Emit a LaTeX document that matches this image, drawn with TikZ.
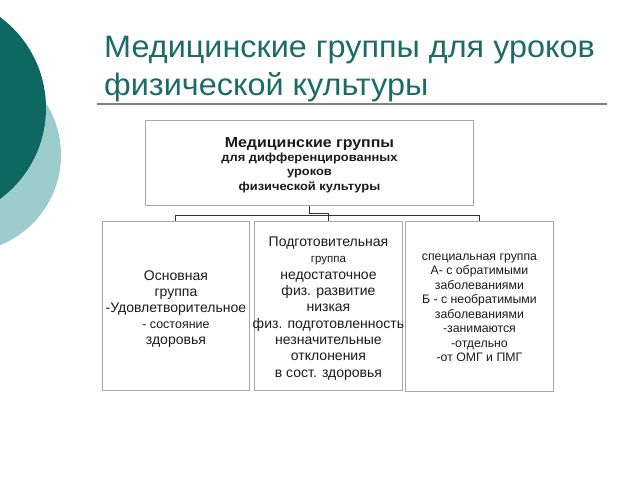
\documentclass[tikz,border=0pt]{standalone}
\usepackage{fontspec}
\setmainfont{Liberation Sans}
\newfontfamily\titlefont[FakeStretch=1.045]{Liberation Sans}
\newfontfamily\topfont[FakeStretch=1.1]{Liberation Sans}
\definecolor{tealdark}{HTML}{0E6862}
\definecolor{teallight}{HTML}{9DCCCC}
\definecolor{titlecol}{HTML}{1D6B66}
\definecolor{boxline}{HTML}{A8A8A8}
\definecolor{conncol}{HTML}{333333}
\definecolor{txtcol}{HTML}{1A1A1A}
\begin{document}
\begin{tikzpicture}[x=1pt,y=-1pt,
  box/.style={draw=boxline, line width=0.9pt, anchor=north west, inner sep=0pt},
  conn/.style={draw=conncol, line width=1pt},
  boxtext/.style={align=center, text=txtcol, inner sep=0pt},
  titletext/.style={anchor=base west, text=titlecol, inner sep=0pt, font=\titlefont\fontsize{31}{37}\selectfont}]
\useasboundingbox (0,0) rectangle (640,480);
\begin{scope}
  \clip (0,0) rectangle (640,480);
  \fill[teallight] (-36,155) circle[radius=97];
  \fill[tealdark] (-67,108) circle[radius=113];
\end{scope}
\node[titletext] (title1) at (104,57) {Медицинские группы для уроков};
\node[titletext] (title2) at (104,95) {физической культуры};
\draw[gray, line width=1.5pt] (97,104) -- (607,104);

\node[box, minimum width=328, minimum height=85] (top) at (145,120) {};
\node[box, minimum width=147, minimum height=169] (b1) at (102,221) {};
\node[box, minimum width=148, minimum height=169] (b2) at (254,221) {};
\node[box, minimum width=148, minimum height=170] (b3) at (405,221) {};

\node[boxtext, font=\topfont\bfseries\fontsize{11.7}{14.3}\selectfont, yshift=-2pt] (t0) at (top.center)
  {{\fontsize{14.5}{14.3}\selectfont Медицинские группы}\\
   для дифференцированных\\
   уроков\\
   физической культуры};

\node[boxtext, font=\fontsize{14}{16}\selectfont, yshift=-3.5pt] (t1) at (b1.center)
  {Основная\\ группа\\ -Удовлетворительное\\
   {\fontsize{12.5}{16}\selectfont - состояние}\\ здоровья};

\node[boxtext, font=\fontsize{14}{16.3}\selectfont, yshift=-2.5pt] (t2) at (b2.center)
  {Подготовительная\\ {\fontsize{11.5}{16.3}\selectfont группа}\\ недостаточное\\
   физ. развитие\\ низкая\\ физ. подготовленность\\ незначительные\\
   отклонения\\ в сост. здоровья};

\node[boxtext, font=\fontsize{12.3}{14.5}\selectfont, yshift=-1.5pt] (t3) at (b3.center)
  {специальная группа\\ А- с обратимыми\\ заболеваниями\\ Б - с необратимыми\\
   заболеваниями\\ -занимаются\\ -отдельно\\ -от ОМГ и ПМГ};

\draw[conn] (top.south) -- ++(0,8) -| (b2.north);
\draw[conn] (b1.north) -- ++(0,-6) -| (b3.north);
\end{tikzpicture}
\end{document}
